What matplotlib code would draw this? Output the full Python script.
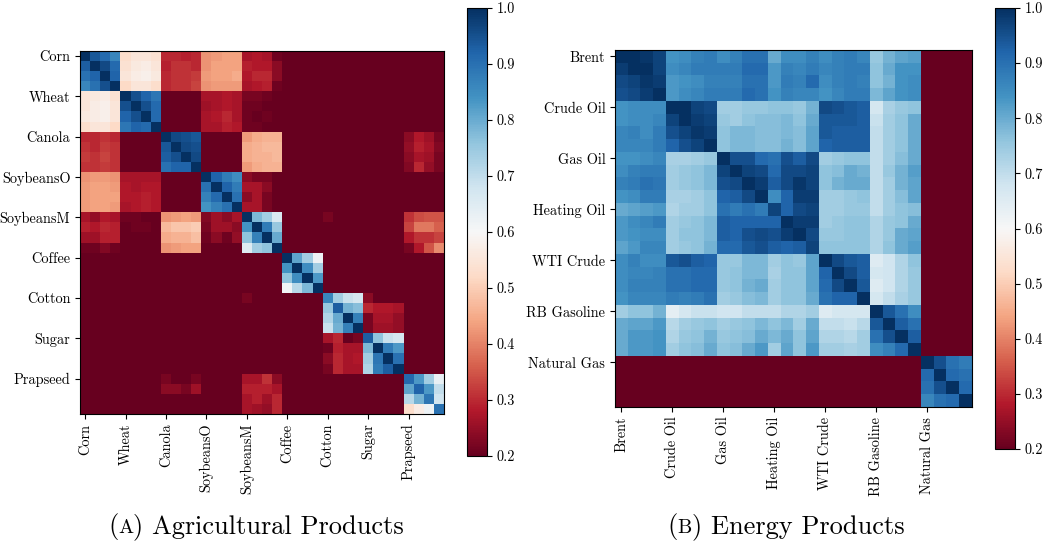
import numpy as np
import matplotlib
matplotlib.use("Agg")
import matplotlib.pyplot as plt

plt.rcParams["font.family"] = "serif"
plt.rcParams["font.serif"] = ["cmr10"]
plt.rcParams["mathtext.fontset"] = "cm"
plt.rcParams["axes.formatter.use_mathtext"] = True

agri_labels = ["Corn", "Wheat", "Canola", "SoybeansO", "SoybeansM",
               "Coffee", "Cotton", "Sugar", "Prapseed"]
energy_labels = ["Brent", "Crude Oil", "Gas Oil", "Heating Oil",
                 "WTI Crude", "RB Gasoline", "Natural Gas"]

# correlation values in percent, 4 contracts per product, blocks split by "|"
agri_rows = [
    "100 94 91 86|53 55 55 54|30 30 29 30|42 43 44 44|27 28 27 21|20 20 20 20|20 20 20 20|20 20 20 20|20 20 20 20",
    "93 100 96 91|54 56 57 55|29 31 31 30|42 44 44 44|29 28 28 24|20 20 20 20|20 20 20 20|20 20 20 20|20 20 20 20",
    "90 92 100 92|55 57 58 56|30 31 31 32|43 44 44 45|28 30 30 24|20 20 20 20|20 20 20 20|20 20 20 20|20 20 20 20",
    "86 90 95 100|52 55 55 53|30 31 31 33|42 43 43 43|27 28 29 21|20 20 20 20|20 20 20 20|20 20 20 20|20 20 20 20",
    "55 56 57 54|100 95 92 89|20 20 20 20|27 27 28 27|22 22 21 20|20 20 20 20|20 20 20 20|20 20 20 20|20 20 20 20",
    "55 57 58 55|95 100 95 91|20 20 20 20|26 27 28 27|21 21 20 20|20 20 20 20|20 20 20 20|20 20 20 20|20 20 20 20",
    "56 57 58 55|92 95 100 91|20 20 20 20|27 28 30 27|21 20 21 20|20 20 20 20|20 20 20 20|20 20 20 20|20 20 20 20",
    "53 55 55 52|89 92 91 100|20 20 20 20|27 27 29 28|21 21 20 20|20 20 20 20|20 20 20 20|20 20 20 20|20 20 20 20",
    "30 30 31 30|20 20 20 20|100 96 95 94|20 20 20 20|43 45 46 46|20 20 20 20|20 20 20 20|20 20 20 20|24 28 26 22",
    "31 30 32 31|20 20 20 20|94 100 96 95|20 20 20 20|45 46 47 47|20 20 20 20|20 20 20 20|20 20 20 20|25 29 27 23",
    "32 31 33 31|20 20 20 20|93 95 100 96|20 20 20 20|45 46 46 47|20 20 20 20|20 20 20 20|20 20 20 20|24 27 26 22",
    "31 31 32 31|20 20 20 20|90 92 92 100|20 20 20 20|43 45 46 46|20 20 20 20|20 20 20 20|20 20 20 20|23 30 25 22",
    "42 43 43 42|27 27 27 27|20 20 20 20|100 92 88 85|24 22 22 20|20 20 20 20|20 20 20 20|20 20 20 20|20 20 20 20",
    "43 44 44 43|28 27 28 28|20 20 20 20|90 100 92 88|27 27 24 20|20 20 20 20|20 20 20 20|20 20 20 20|20 20 20 20",
    "43 44 44 44|28 28 29 28|20 20 20 20|87 91 100 90|24 27 22 20|20 20 20 20|20 20 20 20|20 20 20 20|20 20 20 20",
    "43 44 44 43|27 28 29 28|20 20 20 20|84 87 90 100|27 27 22 20|20 20 20 20|20 20 20 20|20 20 20 20|20 20 20 20",
    "27 25 28 27|21 21 20 20|42 43 44 43|23 26 24 27|100 78 74 66|20 20 20 20|22 20 20 20|20 20 20 20|31 34 35 35",
    "29 28 30 29|20 21 21 20|47 49 49 50|22 26 26 24|84 100 88 75|20 20 20 20|20 20 20 20|20 20 20 20|33 39 39 36",
    "26 26 29 29|20 20 20 20|45 46 46 48|21 24 21 25|76 87 100 80|20 20 20 20|20 20 20 20|20 20 20 20|28 31 31 33",
    "21 21 23 21|20 20 20 20|42 43 44 44|20 20 20 20|65 74 76 100|20 20 20 20|20 20 20 20|20 20 20 20|22 28 35 41",
    "20 20 20 20|20 20 20 20|20 20 20 20|20 20 20 20|20 20 20 20|100 81 74 62|20 20 20 20|20 20 20 20|20 20 20 20",
    "20 20 20 20|20 20 20 20|20 20 20 20|20 20 20 20|20 20 20 20|84 100 85 74|20 20 20 20|20 20 20 20|20 20 20 20",
    "20 20 20 20|20 20 20 20|20 20 20 20|20 20 20 20|20 20 20 20|76 85 100 83|20 20 20 20|20 20 20 20|20 20 20 20",
    "20 20 20 20|20 20 20 20|20 20 20 20|20 20 20 20|20 20 20 20|61 71 78 100|20 20 20 20|20 20 20 20|20 20 20 20",
    "20 20 20 20|20 20 20 20|20 20 20 20|20 20 20 20|22 20 20 20|20 20 20 20|86 74 69 67|24 20 20 20|20 20 20 20",
    "20 20 20 20|20 20 20 20|20 20 20 20|20 20 20 20|20 20 20 20|20 20 20 20|75 93 79 77|30 28 28 27|20 20 20 20",
    "20 20 20 20|20 20 20 20|20 20 20 20|20 20 20 20|20 20 20 20|20 20 20 20|72 80 100 87|22 27 27 25|20 20 20 20",
    "20 20 20 20|20 20 20 20|20 20 20 20|20 20 20 20|20 20 20 20|20 20 20 20|69 79 87 100|22 26 26 25|20 20 20 20",
    "20 20 20 20|20 20 20 20|20 20 20 20|20 20 20 20|20 20 20 20|20 20 20 20|27 30 20 22|93 76 69 67|20 20 20 20",
    "20 20 20 20|20 20 20 20|20 20 20 20|20 20 20 20|20 20 20 20|20 20 20 20|21 29 27 27|78 100 88 83|20 20 20 20",
    "20 20 20 20|20 20 20 20|20 20 20 20|20 20 20 20|20 20 20 20|20 20 20 20|24 30 27 28|74 89 100 90|20 20 20 20",
    "20 20 20 20|20 20 20 20|20 20 20 20|20 20 20 20|20 20 20 20|20 20 20 20|22 30 27 27|72 88 93 100|20 20 20 20",
    "20 20 20 20|20 20 20 20|22 20 20 22|20 20 20 20|27 27 31 24|20 20 20 20|20 20 20 20|20 20 20 20|91 83 74 63",
    "20 20 20 20|20 20 20 20|24 24 22 26|20 20 20 20|29 29 29 27|20 20 20 20|20 20 20 20|20 20 20 20|81 92 83 70",
    "20 20 20 20|20 20 20 20|20 20 20 20|20 20 20 20|27 29 26 30|20 20 20 20|20 20 20 20|20 20 20 20|71 79 89 68",
    "20 20 20 20|20 20 20 20|20 20 20 20|20 20 20 20|27 26 25 30|20 20 20 20|20 20 20 20|20 20 20 20|53 57 62 90",
]

energy_rows = [
    "100 100 99 97|84 85 87 88|85 87 90 90|80 85 85 87|85 87 88 86|75 79 81 82|20 20 20 20",
    "98 100 100 97|85 86 88 88|88 88 91 91|83 87 86 88|86 87 88 88|76 80 84 84|20 20 20 20",
    "96 97 99 98|83 84 85 87|87 87 90 90|83 88 87 91|85 87 88 87|76 79 84 85|20 20 20 20",
    "95 96 98 100|83 85 86 88|88 88 91 90|84 87 86 86|84 86 88 88|78 81 84 85|20 20 20 20",
    "84 85 85 85|100 100 97 96|74 74 75 75|76 76 75 79|96 95 94 93|67 73 75 76|20 20 20 20",
    "84 85 85 86|97 100 98 97|75 74 76 77|77 78 76 80|94 94 94 93|69 74 76 80|20 20 20 20",
    "86 87 85 88|95 97 99 98|76 78 78 77|77 78 77 81|94 93 93 93|70 74 76 80|20 20 20 20",
    "86 86 86 88|92 95 97 100|76 78 78 77|77 79 77 81|92 93 93 93|70 74 76 80|20 20 20 20",
    "84 84 85 86|73 73 74 75|100 95 95 91|90 95 93 96|74 75 76 76|70 74 77 80|20 20 20 20",
    "85 87 88 88|74 75 76 78|97 100 97 96|91 96 96 97|76 77 80 79|70 75 79 82|20 20 20 20",
    "87 88 90 89|74 75 76 78|95 96 100 98|93 96 99 97|76 79 80 80|70 74 79 81|20 20 20 20",
    "84 85 88 88|73 73 74 76|92 93 96 100|85 92 98 98|74 74 75 76|70 74 77 81|20 20 20 20",
    "80 81 82 83|72 74 74 76|90 88 90 88|97 92 96 97|74 74 75 75|70 74 76 77|20 20 20 20",
    "83 85 86 88|74 75 76 78|93 92 92 92|92 100 98 98|74 75 76 76|72 75 76 80|20 20 20 20",
    "83 84 85 85|74 76 76 78|93 92 95 96|95 98 100 96|75 75 76 76|72 75 80 81|20 20 20 20",
    "81 83 86 86|74 75 76 79|91 91 94 95|93 92 93 97|76 76 76 76|72 76 80 82|20 20 20 20",
    "85 87 85 85|94 95 93 92|75 75 78 78|74 76 75 81|100 96 94 93|65 68 72 76|20 20 20 20",
    "85 86 86 87|90 90 91 91|75 76 78 78|73 76 76 81|92 100 96 93|67 68 72 75|20 20 20 20",
    "85 87 87 87|90 90 91 91|75 76 79 80|74 76 76 81|91 96 100 94|65 68 72 75|20 20 20 20",
    "84 86 86 86|88 87 88 90|74 75 77 78|74 76 76 80|90 92 92 100|67 70 73 75|20 20 20 20",
    "74 76 76 79|64 67 69 69|68 68 70 70|70 72 72 74|65 67 67 67|100 94 90 85|20 20 20 20",
    "80 81 81 83|71 74 75 76|74 75 76 78|76 78 74 80|70 70 69 71|94 100 93 90|20 20 20 20",
    "80 83 83 84|72 75 76 79|75 76 77 80|78 80 76 81|72 72 71 74|90 95 100 93|20 20 20 20",
    "80 83 83 84|74 76 77 80|76 77 80 83|74 81 76 83|74 74 73 74|85 87 91 100|20 20 20 20",
    "20 20 20 20|20 20 20 20|20 20 20 20|20 20 20 20|20 20 20 20|20 20 20 20|100 95 90 88",
    "20 20 20 20|20 20 20 20|20 20 20 20|20 20 20 20|20 20 20 20|20 20 20 20|91 100 91 90",
    "20 20 20 20|20 20 20 20|20 20 20 20|20 20 20 20|20 20 20 20|20 20 20 20|90 95 100 91",
    "20 20 20 20|20 20 20 20|20 20 20 20|20 20 20 20|20 20 20 20|20 20 20 20|86 90 91 100",
]

W, H = 1045, 544


def to_matrix(rows):
    return np.array([[float(v) for v in r.replace("|", " ").split()] for r in rows]) / 100.0


def box(x0, y0, x1, y1):
    # pixel box (top-left origin) -> figure fraction rect
    return [x0 / W, 1 - y1 / H, (x1 - x0) / W, (y1 - y0) / H]


fig = plt.figure(figsize=(W / 100, H / 100), dpi=100)
renderer = fig.canvas.get_renderer()


def panel(rows, labels, ax_px, cb_px, letter, caption, cap_x):
    mat = to_matrix(rows)
    ax = fig.add_axes(box(*ax_px))
    im = ax.imshow(mat, cmap="RdBu", vmin=0.2, vmax=1.0, aspect="auto",
                   interpolation="nearest")
    ticks = np.arange(len(labels)) * 4
    ax.set_xticks(ticks)
    ax.set_xticklabels(labels, rotation=90)
    ax.set_yticks(ticks)
    ax.set_yticklabels(labels)
    ax.tick_params(labelsize=10.3, length=3.5, width=0.8)

    cax = fig.add_axes(box(*cb_px))
    cb_ticks = np.round(np.arange(0.2, 1.01, 0.1), 1)
    cb = fig.colorbar(im, cax=cax, ticks=cb_ticks)
    cb.ax.set_yticklabels([f"{t:.1f}" for t in cb_ticks])
    cb.ax.tick_params(labelsize=10.3, length=3.5, width=0.8)

    # caption with small-caps letter
    y = 1 - 533 / H
    t = fig.text(cap_x / W, y, "(", fontsize=19, va="baseline")
    x = t.get_window_extent(renderer).x1
    t = fig.text(x / W, y, letter, fontsize=14.5, va="baseline")
    x = t.get_window_extent(renderer).x1
    fig.text(x / W, y, ") " + caption, fontsize=19, va="baseline")


panel(agri_rows, agri_labels, (80, 51, 444, 414), (467, 8, 487, 456),
      "A", "Agricultural Products", 108)
panel(energy_rows, energy_labels, (615, 50, 972, 407), (995, 8, 1015, 449),
      "B", "Energy Products", 667)

fig.savefig("out.png", dpi=100)
